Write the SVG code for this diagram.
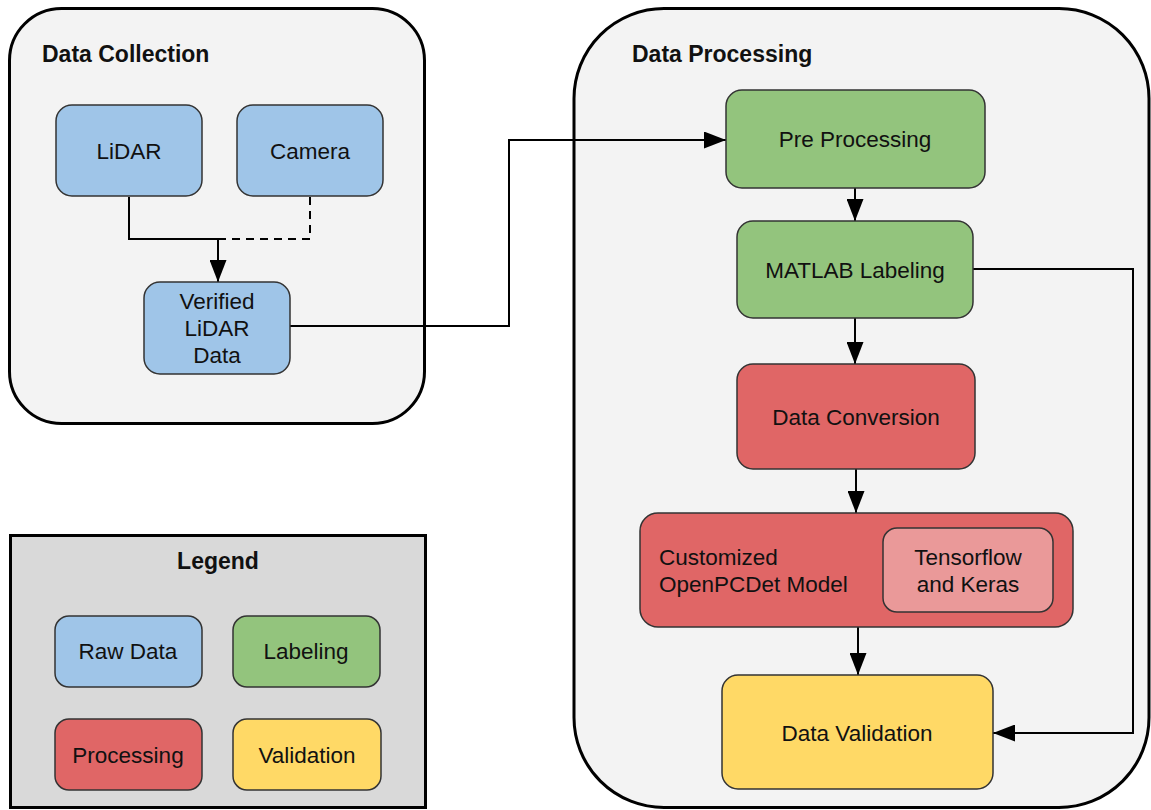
<svg xmlns="http://www.w3.org/2000/svg" width="1151" height="810" viewBox="0 0 1151 810">
  <style>
    text { font-family: "Liberation Sans", Arial, sans-serif; font-size: 22.5px; fill: #111; }
    .title { font-weight: bold; font-size: 23px; }
    .mid { text-anchor: middle; }
    .container { fill: #f3f3f3; stroke: #000; stroke-width: 3; }
    .legend { fill: #d9d9d9; stroke: #000; stroke-width: 3; }
    .node { stroke: #333; stroke-width: 1.5; }
    .raw { fill: #9fc5e8; }
    .label { fill: #93c47d; }
    .proc { fill: #e06666; }
    .proc-light { fill: #ea9999; }
    .valid { fill: #ffd966; }
    .edge { fill: none; stroke: #000; stroke-width: 2; }
    .dashed { stroke-dasharray: 8 6; }
  </style>
  <defs>
    <marker id="arrow" viewBox="0 0 22 17" refX="22" refY="8.5" markerWidth="22" markerHeight="17" markerUnits="userSpaceOnUse" orient="auto">
      <path d="M0,0 L22,8.5 L0,17 Z" fill="#000"/>
    </marker>
  </defs>

  <!-- Containers -->
  <g id="data-collection">
    <rect class="container" x="9.5" y="8.5" width="415" height="415" rx="52" ry="52"/>
    <text class="title" x="42" y="62">Data Collection</text>
  </g>
  <g id="data-processing">
    <rect class="container" x="574" y="8.5" width="575" height="799" rx="90" ry="90"/>
    <text class="title" x="632" y="62">Data Processing</text>
  </g>
  <g id="legend">
    <rect class="legend" x="10.5" y="535.5" width="415" height="272"/>
    <text class="title mid" x="218" y="569">Legend</text>
  </g>

  <!-- Connectors -->
  <g id="connectors">
    <path class="edge dashed" d="M310,197 V239 H218"/>
    <path class="edge" d="M129,197 V239 H218 V282" marker-end="url(#arrow)"/>
    <path class="edge" d="M290,326 H509 V140 H726" marker-end="url(#arrow)"/>
    <path class="edge" d="M855,188 V221" marker-end="url(#arrow)"/>
    <path class="edge" d="M855,318 V364" marker-end="url(#arrow)"/>
    <path class="edge" d="M856,469 V513" marker-end="url(#arrow)"/>
    <path class="edge" d="M858,627 V675" marker-end="url(#arrow)"/>
    <path class="edge" d="M973,269 H1133 V733 H993" marker-end="url(#arrow)"/>
  </g>

  <!-- Data Collection nodes -->
  <g id="lidar">
    <rect class="node raw" x="56" y="105" width="146" height="91" rx="16"/>
    <text class="mid" x="129" y="159">LiDAR</text>
  </g>
  <g id="camera">
    <rect class="node raw" x="237" y="105" width="146" height="91" rx="16"/>
    <text class="mid" x="310" y="159">Camera</text>
  </g>
  <g id="verified-lidar-data">
    <rect class="node raw" x="144" y="282" width="146" height="92" rx="16"/>
    <text class="mid" x="217" y="309">Verified</text>
    <text class="mid" x="217" y="336">LiDAR</text>
    <text class="mid" x="217" y="363">Data</text>
  </g>

  <!-- Data Processing nodes -->
  <g id="pre-processing">
    <rect class="node label" x="726" y="90" width="259" height="98" rx="16"/>
    <text class="mid" x="855" y="147">Pre Processing</text>
  </g>
  <g id="matlab-labeling">
    <rect class="node label" x="737" y="221" width="236" height="97" rx="16"/>
    <text class="mid" x="855" y="278">MATLAB Labeling</text>
  </g>
  <g id="data-conversion">
    <rect class="node proc" x="737" y="364" width="238" height="105" rx="16"/>
    <text class="mid" x="856" y="425">Data Conversion</text>
  </g>
  <g id="customized-openpcdet-model">
    <rect class="node proc" x="640" y="513" width="433" height="114" rx="18"/>
    <text x="659" y="565">Customized</text>
    <text x="659" y="592">OpenPCDet Model</text>
  </g>
  <g id="tensorflow-keras">
    <rect class="node proc-light" x="883" y="528" width="170" height="84" rx="14"/>
    <text class="mid" x="968" y="565">Tensorflow</text>
    <text class="mid" x="968" y="592">and Keras</text>
  </g>
  <g id="data-validation">
    <rect class="node valid" x="722" y="675" width="271" height="114" rx="16"/>
    <text class="mid" x="857" y="741">Data Validation</text>
  </g>

  <!-- Legend entries -->
  <g id="legend-raw-data">
    <rect class="node raw" x="55" y="616" width="147" height="71" rx="14"/>
    <text class="mid" x="128" y="659">Raw Data</text>
  </g>
  <g id="legend-labeling">
    <rect class="node label" x="233" y="616" width="147" height="71" rx="14"/>
    <text class="mid" x="306" y="659">Labeling</text>
  </g>
  <g id="legend-processing">
    <rect class="node proc" x="55" y="719" width="147" height="71" rx="14"/>
    <text class="mid" x="128" y="763">Processing</text>
  </g>
  <g id="legend-validation">
    <rect class="node valid" x="233" y="719" width="148" height="71" rx="14"/>
    <text class="mid" x="307" y="763">Validation</text>
  </g>
</svg>
